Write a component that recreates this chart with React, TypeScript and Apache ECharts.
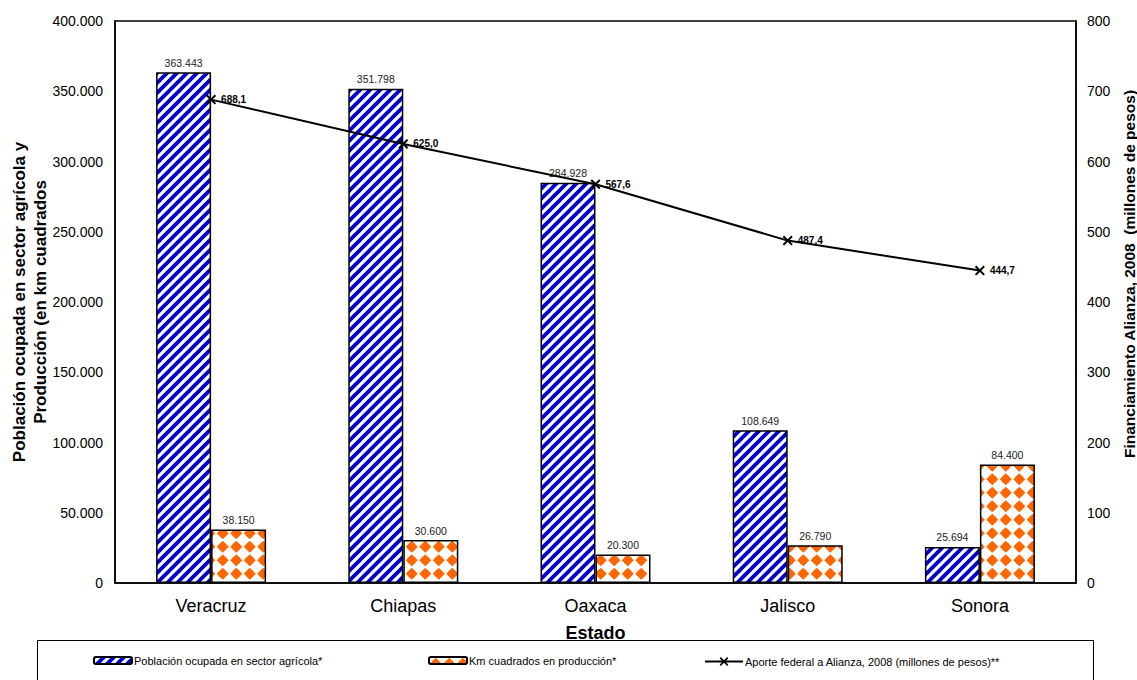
import React, { useEffect, useRef } from "react";
import * as echarts from "echarts";

// States on the category axis
const estados = ["Veracruz", "Chiapas", "Oaxaca", "Jalisco", "Sonora"];
// Workers in the agricultural sector
const poblacionAgricola = [363443, 351798, 284928, 108649, 25694];
// Square kilometres under production
const kmProduccion = [38150, 30600, 20300, 26790, 84400];
// Federal contribution to Alianza, 2008 (million pesos)
const aporteFederal = [688.1, 625.0, 567.6, 487.4, 444.7];

// Left and right axis tick settings
const leftTicks = { min: 0, max: 400000, interval: 50000 };
const rightTicks = { min: 0, max: 800, interval: 100 };

const FONT = "'Liberation Sans', Arial, sans-serif";

const serieNames = [
  "Población ocupada en sector agrícola*",
  "Km cuadrados en producción*",
  "Aporte federal a Alianza, 2008 (millones de pesos)**",
];

function thousands(v: number): string {
  return Math.round(v)
    .toString()
    .replace(/\B(?=(\d{3})+(?!\d))/g, ".");
}

function decimalComma(v: number): string {
  return v.toFixed(1).replace(".", ",");
}

// Diagonal blue stripes on white
function stripeTile(): HTMLCanvasElement {
  const c = document.createElement("canvas");
  c.width = 10;
  c.height = 10;
  const g = c.getContext("2d")!;
  g.fillStyle = "#ffffff";
  g.fillRect(0, 0, 10, 10);
  g.strokeStyle = "#0000cc";
  g.lineWidth = 3.8;
  g.lineCap = "square";
  for (const o of [-10, 0, 10]) {
    g.beginPath();
    g.moveTo(o - 1, 11);
    g.lineTo(o + 11, -1);
    g.stroke();
  }
  return c;
}

// Orange rounded diamonds on white
function diamondTile(): HTMLCanvasElement {
  const s = 27;
  const c = document.createElement("canvas");
  c.width = s;
  c.height = s;
  const g = c.getContext("2d")!;
  g.fillStyle = "#ffffff";
  g.fillRect(0, 0, s, s);
  g.fillStyle = "#ff6600";
  const half = s / 2;
  const centers: Array<[number, number]> = [];
  for (const cx of [half / 2, half * 1.5]) {
    for (const cy of [half / 2, half * 1.5]) centers.push([cx, cy]);
  }
  const r = 6.0;
  for (const [cx, cy] of centers) {
    g.beginPath();
    g.moveTo(cx, cy - r);
    g.lineTo(cx + r, cy);
    g.lineTo(cx, cy + r);
    g.lineTo(cx - r, cy);
    g.closePath();
    g.fill();
    g.beginPath();
    g.arc(cx, cy, 4.2, 0, Math.PI * 2);
    g.fill();
  }
  return c;
}

const crossSymbol =
  "path://M0,1.4L1.4,0L5,3.6L8.6,0L10,1.4L6.4,5L10,8.6L8.6,10L5,6.4L1.4,10L0,8.6L3.6,5Z";

export default function App() {
  const ref = useRef<HTMLDivElement>(null);

  useEffect(() => {
    document.body.style.margin = "0";
    if (!ref.current) return;
    const chart = echarts.init(ref.current, undefined, { renderer: "svg" });

    const stripes = { image: stripeTile(), repeat: "repeat" as const };
    const diamonds = { image: diamondTile(), repeat: "repeat" as const };

    const legendBase = {
      top: 655,
      padding: 0,
      itemWidth: 38,
      itemHeight: 7,
      itemGap: 4,
      z: 300,
      textStyle: { fontFamily: FONT, fontSize: 11, color: "#000", padding: [0, 0, 0, -3] },
    };

    chart.setOption({
      animation: false,
      backgroundColor: "#ffffff",
      textStyle: { fontFamily: FONT },
      grid: {
        left: 115,
        right: 61,
        top: 21,
        bottom: 97,
        outerBoundsMode: "none",
        show: true,
        borderColor: "#000",
        borderWidth: 1.5,
        backgroundColor: "transparent",
      },
      legend: [
        { ...legendBase, left: 93, data: [serieNames[0]] },
        { ...legendBase, left: 428, data: [serieNames[1]] },
        { ...legendBase, left: 704, top: 656, itemHeight: 11, data: [serieNames[2]] },
      ],
      graphic: [
        {
          type: "rect",
          z: 200,
          shape: { x: 37.5, y: 640.5, width: 1056, height: 60 },
          style: { fill: "#ffffff", stroke: "#000", lineWidth: 1 },
        },
      ],
      xAxis: {
        type: "category",
        data: estados,
        name: "Estado",
        nameLocation: "middle",
        nameGap: 41,
        nameTextStyle: { fontFamily: FONT, fontSize: 18, fontWeight: "bold", color: "#000" },
        axisLine: { lineStyle: { color: "#000", width: 1.5 } },
        axisTick: { show: false },
        axisLabel: { fontFamily: FONT, fontSize: 18, color: "#000", margin: 14 },
      },
      yAxis: [
        {
          type: "value",
          ...leftTicks,
          name: "Población ocupada en sector agrícola y\nProducción (en km cuadrados",
          nameLocation: "middle",
          nameRotate: 90,
          nameGap: 64,
          nameMoveOverlap: false,
          nameTextStyle: {
            fontFamily: FONT,
            fontSize: 17,
            fontWeight: "bold",
            color: "#000",
            lineHeight: 21,
          },
          axisLine: { show: true, lineStyle: { color: "#000", width: 1.5 } },
          axisTick: { show: false },
          splitLine: { show: false },
          axisLabel: {
            fontFamily: FONT,
            fontSize: 14,
            color: "#000",
            margin: 12,
            formatter: (v: number) => thousands(v),
          },
        },
        {
          type: "value",
          ...rightTicks,
          position: "right",
          name: "Financiamiento Alianza, 2008  (millones de pesos)",
          nameLocation: "middle",
          nameRotate: 90,
          nameGap: 41,
          nameTextStyle: {
            fontFamily: FONT,
            fontSize: 15.5,
            fontWeight: "bold",
            color: "#000",
            padding: [0, 0, 0, 56],
          },
          axisLine: { show: true, lineStyle: { color: "#000", width: 1.5 } },
          axisTick: { show: false },
          splitLine: { show: false },
          axisLabel: { fontFamily: FONT, fontSize: 14, color: "#000", margin: 11 },
        },
      ],
      series: [
        {
          name: serieNames[0],
          type: "bar",
          data: poblacionAgricola,
          barWidth: 55,
          barGap: "0%",
          itemStyle: { color: stripes, borderColor: "#000", borderWidth: 1.5 },
          label: {
            show: true,
            position: "top",
            distance: 4,
            fontFamily: FONT,
            fontSize: 10.5,
            color: "#222",
            formatter: (p: any) => thousands(p.value),
          },
        },
        {
          name: serieNames[1],
          type: "bar",
          data: kmProduccion,
          barWidth: 55,
          barGap: "0%",
          itemStyle: { color: diamonds, borderColor: "#000", borderWidth: 1.5 },
          label: {
            show: true,
            position: "top",
            distance: 4,
            fontFamily: FONT,
            fontSize: 10.5,
            color: "#222",
            formatter: (p: any) => thousands(p.value),
          },
        },
        {
          name: serieNames[2],
          type: "line",
          yAxisIndex: 1,
          data: aporteFederal,
          z: 10,
          symbol: crossSymbol,
          symbolSize: 10,
          itemStyle: { color: "#000" },
          lineStyle: { color: "#000", width: 2 },
          label: {
            show: true,
            position: "right",
            distance: 5,
            fontFamily: FONT,
            fontSize: 10,
            fontWeight: "bold",
            color: "#000",
            formatter: (p: any) => decimalComma(p.value),
          },
        },
      ],
    });

    return () => chart.dispose();
  }, []);

  return <div ref={ref} style={{ width: 1137, height: 680 }} />;
}
